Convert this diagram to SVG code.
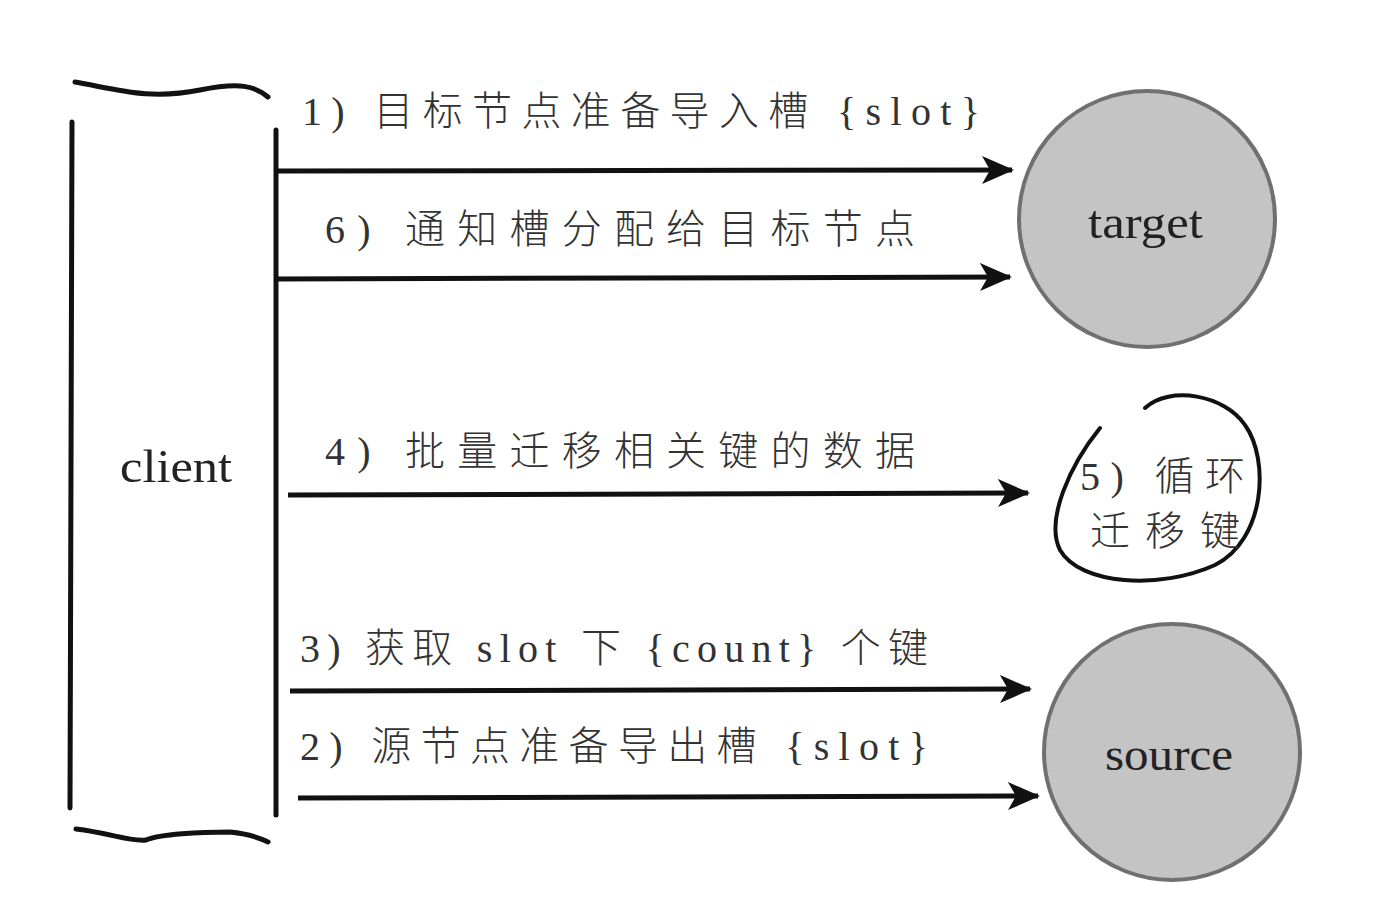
<svg xmlns="http://www.w3.org/2000/svg" width="1384" height="916" viewBox="0 0 1384 916">
<defs>
<style>
.ln{stroke:#111;stroke-width:5;fill:none;stroke-linecap:round}
.ar{stroke:#111;stroke-width:5;fill:none}
.lbl{font-family:"Liberation Serif","Noto Sans CJK SC",serif;font-size:40px;fill:#333;font-weight:300}
.nd{fill:#c4c4c4;stroke:#707070;stroke-width:4}
.nt{font-family:"Liberation Serif","Noto Sans CJK SC",serif;font-size:46px;fill:#222}
</style>
<marker id="ah" markerUnits="userSpaceOnUse" markerWidth="40" markerHeight="34" refX="30" refY="15" orient="auto">
<path d="M0,1 L32,15 L0,29 L8,15 Z" fill="#111"/>
</marker>
</defs>
<rect width="1384" height="916" fill="#fff"/>
<g id="client">
<path class="ln" d="M75,82 C120,90 150,100 200,90 C240,82 255,86 268,97"/>
<path class="ln" d="M72,122 L70,808"/>
<path class="ln" d="M276,130 L276,815"/>
<path class="ln" d="M76,829 C110,833 130,842 146,840 C160,834 200,832 230,832 C250,834 260,838 268,842"/>
<text class="nt" x="120" y="482" textLength="112" lengthAdjust="spacingAndGlyphs">client</text>
</g>
<g id="target">
<circle class="nd" cx="1147" cy="219" r="128"/>
<text class="nt" x="1088" y="238" textLength="115" lengthAdjust="spacingAndGlyphs">target</text>
</g>
<g id="source">
<circle class="nd" cx="1172" cy="752" r="128"/>
<text class="nt" x="1105" y="770" textLength="128" lengthAdjust="spacingAndGlyphs">source</text>
</g>
<g id="loop">
<path class="ln" style="stroke-width:4" d="M1100,428 C1070,465 1045,520 1060,550 C1080,585 1160,590 1215,565 C1265,540 1270,460 1245,425 C1225,395 1170,385 1145,408"/>
<text class="lbl" x="1080" y="490" textLength="165" lengthAdjust="spacing">5) 循环</text>
<text class="lbl" x="1090" y="545" textLength="150" lengthAdjust="spacing">迁移键</text>
</g>
<g id="connectors">
<path class="ar" d="M276,171 L1012,170" marker-end="url(#ah)"/>
<path class="ar" d="M276,279 L1010,277" marker-end="url(#ah)"/>
<path class="ar" d="M288,495 L1028,493" marker-end="url(#ah)"/>
<path class="ar" d="M290,691 L1030,689" marker-end="url(#ah)"/>
<path class="ar" d="M298,798 L1038,796" marker-end="url(#ah)"/>
<text class="lbl" x="302" y="125" textLength="678" lengthAdjust="spacing">1) 目标节点准备导入槽 {slot}</text>
<text class="lbl" x="325" y="243" textLength="590" lengthAdjust="spacing">6) 通知槽分配给目标节点</text>
<text class="lbl" x="325" y="465" textLength="590" lengthAdjust="spacing">4) 批量迁移相关键的数据</text>
<text class="lbl" x="300" y="662" textLength="628" lengthAdjust="spacing">3) 获取 slot 下 {count} 个键</text>
<text class="lbl" x="300" y="760" textLength="628" lengthAdjust="spacing">2) 源节点准备导出槽 {slot}</text>
</g>
</svg>
